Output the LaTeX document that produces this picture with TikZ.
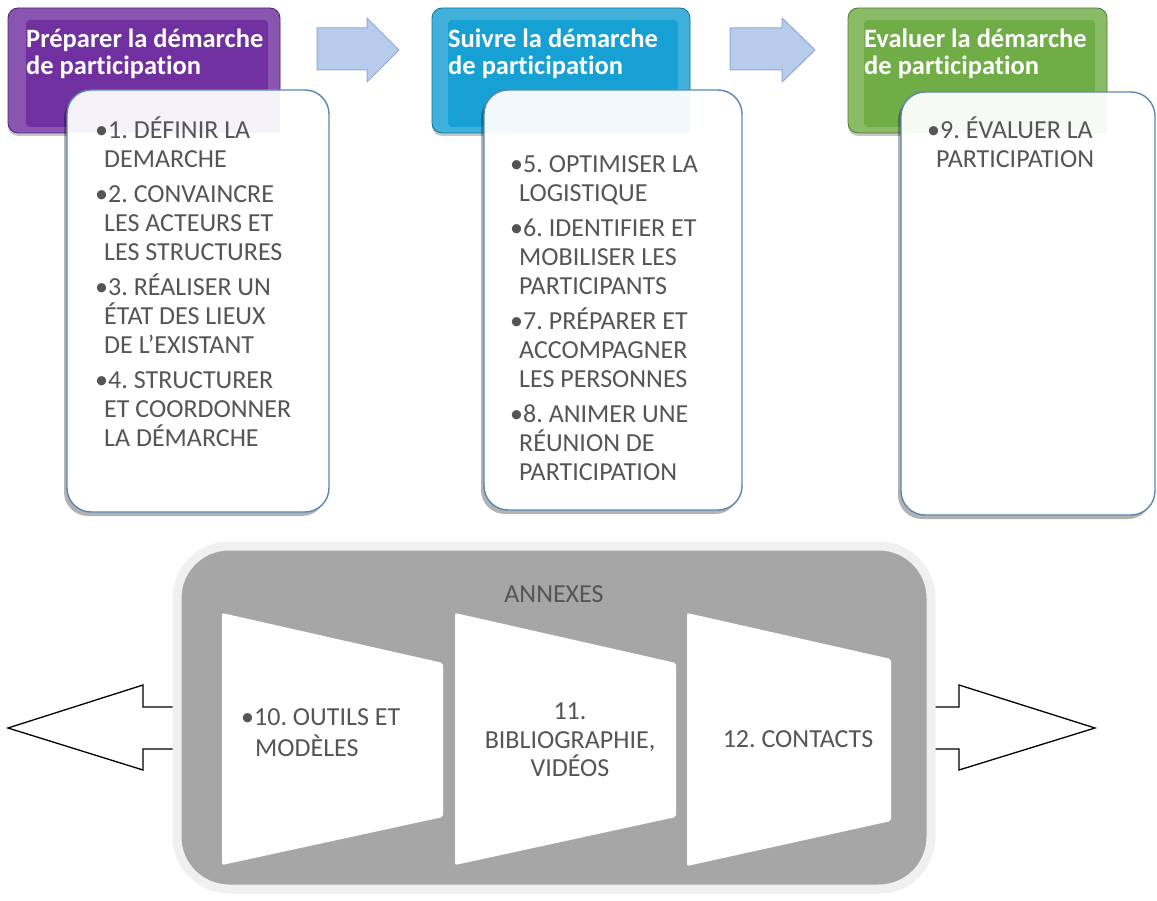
\documentclass[tikz,border=0pt]{standalone}
\usepackage{fontspec}
\setmainfont{Carlito}[Ligatures={NoCommon,NoContextual}]
\usetikzlibrary{shadows}
\frenchspacing
\definecolor{txt}{HTML}{555555}
\definecolor{hpurple}{HTML}{7030A0}
\definecolor{hcyan}{HTML}{17A0D4}
\definecolor{hgreen}{HTML}{70AD47}
\definecolor{arrfill}{HTML}{B7CBEA}
\definecolor{arrline}{HTML}{8FAAD6}
\definecolor{boxline}{HTML}{5A86B5}
\definecolor{annexgray}{HTML}{A6A6A6}
\definecolor{annexrim}{HTML}{F0F0F0}
\newcommand\mybul{\makebox[13pt][l]{•}}
\newcommand\myind{\hspace*{9pt}}
\tikzset{
  hdrbox/.style={draw=#1!70!black, line width=0.8pt, fill=#1!82!white, rounded corners=10pt,
    inner sep=0pt, drop shadow={shadow xshift=0pt, shadow yshift=-3pt, opacity=.45}},
  hdrface/.style={fill=#1, rounded corners=4pt},
  hdrtitle/.style={text=white, font=\bfseries\fontsize{26.5}{27}\selectfont, align=left, inner sep=0pt, anchor=north west},
  boxshadow/.style={fill=black, opacity=.3, rounded corners=24pt},
  listbox/.style={draw=boxline, line width=1.4pt, fill=white, rounded corners=24pt, inner sep=0pt},
  listtext/.style={text=txt, font=\fontsize{26}{29}\selectfont, align=left, inner sep=0pt, anchor=north west},
  annextext/.style={text=txt, font=\fontsize{26}{28.5}\selectfont, inner sep=0pt},
  bluearrow/.style={fill=arrfill, draw=arrline, line width=1pt},
  openarrow/.style={draw=black, line width=1.3pt, line join=miter},
  trap/.style={fill=white, rounded corners=2pt},
}
\begin{document}
\begin{tikzpicture}[x=1pt,y=-1pt]
\useasboundingbox (0,0) rectangle (1157,901);

% header boxes
\node[hdrbox=hpurple, minimum width=272pt, minimum height=125pt] (h1) at (144,70.5) {};
\fill[hdrface=hpurple] (26,20) rectangle (268,127);
\node[hdrbox=hcyan, minimum width=258pt, minimum height=125pt] (h2) at (561,70.5) {};
\fill[hdrface=hcyan] (448,20) rectangle (678,127);
\node[hdrbox=hgreen, minimum width=259pt, minimum height=125pt] (h3) at (977.5,70.5) {};
\fill[hdrface=hgreen] (864,20) rectangle (1095,127);

\node[hdrtitle] (t1) at (26,28.1) {\strut Préparer la démarche\\de participation};
\node[hdrtitle] (t2) at (448,28.1) {\strut Suivre la démarche\\de participation};
\node[hdrtitle] (t3) at (864,28.1) {\strut Evaluer la démarche\\de participation};

% blue arrows
\draw[bluearrow] (317,28) -- (367,28) -- (367,18) -- (399,50) -- (367,82) -- (367,70) -- (317,70) -- cycle;
\draw[bluearrow] (730,28) -- (782,28) -- (782,18) -- (815,50) -- (782,82) -- (782,70) -- (730,70) -- cycle;

% list boxes: shadows, opaque boxes, header tint showing through
\fill[boxshadow] (64,94) rectangle (326,516);
\fill[boxshadow] (481,94) rectangle (739,514);
\fill[boxshadow] (898,96) rectangle (1152,519);
\node[listbox, minimum width=262pt, minimum height=422pt] (b1) at (198,301) {};
\node[listbox, minimum width=258pt, minimum height=420pt] (b2) at (613,300) {};
\node[listbox, minimum width=254pt, minimum height=423pt] (b3) at (1028,303.5) {};
\begin{scope}
  \clip[rounded corners=24pt] (67,90) rectangle (329,512);
  \fill[hpurple, opacity=.06] (8,8) rectangle (280,133);
\end{scope}
\begin{scope}
  \clip[rounded corners=24pt] (484,90) rectangle (742,510);
  \fill[hcyan, opacity=.06] (432,8) rectangle (690,133);
\end{scope}
\begin{scope}
  \clip[rounded corners=24pt] (901,92) rectangle (1155,515);
  \fill[hgreen, opacity=.06] (848,8) rectangle (1107,133);
\end{scope}

\node[listtext] (l1) at (95,116.7) {\strut\mybul 1. DÉFINIR LA\\\myind DEMARCHE\\[6pt]
\mybul 2. CONVAINCRE\\\myind LES ACTEURS ET\\\myind LES STRUCTURES\\[6pt]
\mybul 3. RÉALISER UN\\\myind ÉTAT DES LIEUX\\\myind DE L’EXISTANT\\[6pt]
\mybul 4. STRUCTURER\\\myind ET COORDONNER\\\myind LA DÉMARCHE};

\node[listtext] (l2) at (510,151.7) {\strut\mybul 5. OPTIMISER LA\\\myind LOGISTIQUE\\[6pt]
\mybul 6. IDENTIFIER ET\\\myind MOBILISER LES\\\myind PARTICIPANTS\\[6pt]
\mybul 7. PRÉPARER ET\\\myind ACCOMPAGNER\\\myind LES PERSONNES\\[6pt]
\mybul 8. ANIMER UNE\\\myind RÉUNION DE\\\myind PARTICIPATION};

\node[listtext] (l3) at (927,116.7) {\strut\mybul 9. ÉVALUER LA\\\myind PARTICIPATION};

% open arrows (behind annex box)
\draw[openarrow] (185,707) -- (143,707) -- (143,685) -- (8,728) -- (143,770) -- (143,749) -- (185,749);
\draw[openarrow] (925,707) -- (959,707) -- (959,685) -- (1095,728) -- (959,770) -- (959,749) -- (925,749);

% annex box
\draw[fill=annexgray, draw=annexrim, line width=9pt, rounded corners=52pt,
  drop shadow={shadow xshift=2pt, shadow yshift=-4pt, opacity=.45}] (177,546) rectangle (931,889);
\node[annextext, anchor=base] (ann) at (554,602) {ANNEXES};

% trapezoids
\fill[trap] (222,613) -- (443,663) -- (443,817) -- (222,865) -- cycle;
\fill[trap] (455,613) -- (676,663) -- (676,817) -- (455,865) -- cycle;
\fill[trap] (687,613) -- (891,659) -- (891,821) -- (687,866) -- cycle;

\node[annextext, align=left, anchor=north west] (a1) at (241,705.4) {\strut\mybul 10. OUTILS ET\\\hspace*{14pt}MODÈLES};
\node[annextext, align=center, anchor=north] (a2) at (570,699.4) {\strut 11.\\BIBLIOGRAPHIE,\\VIDÉOS};
\node[annextext, anchor=base] (a3) at (798,747) {12. CONTACTS};
\end{tikzpicture}
\end{document}
